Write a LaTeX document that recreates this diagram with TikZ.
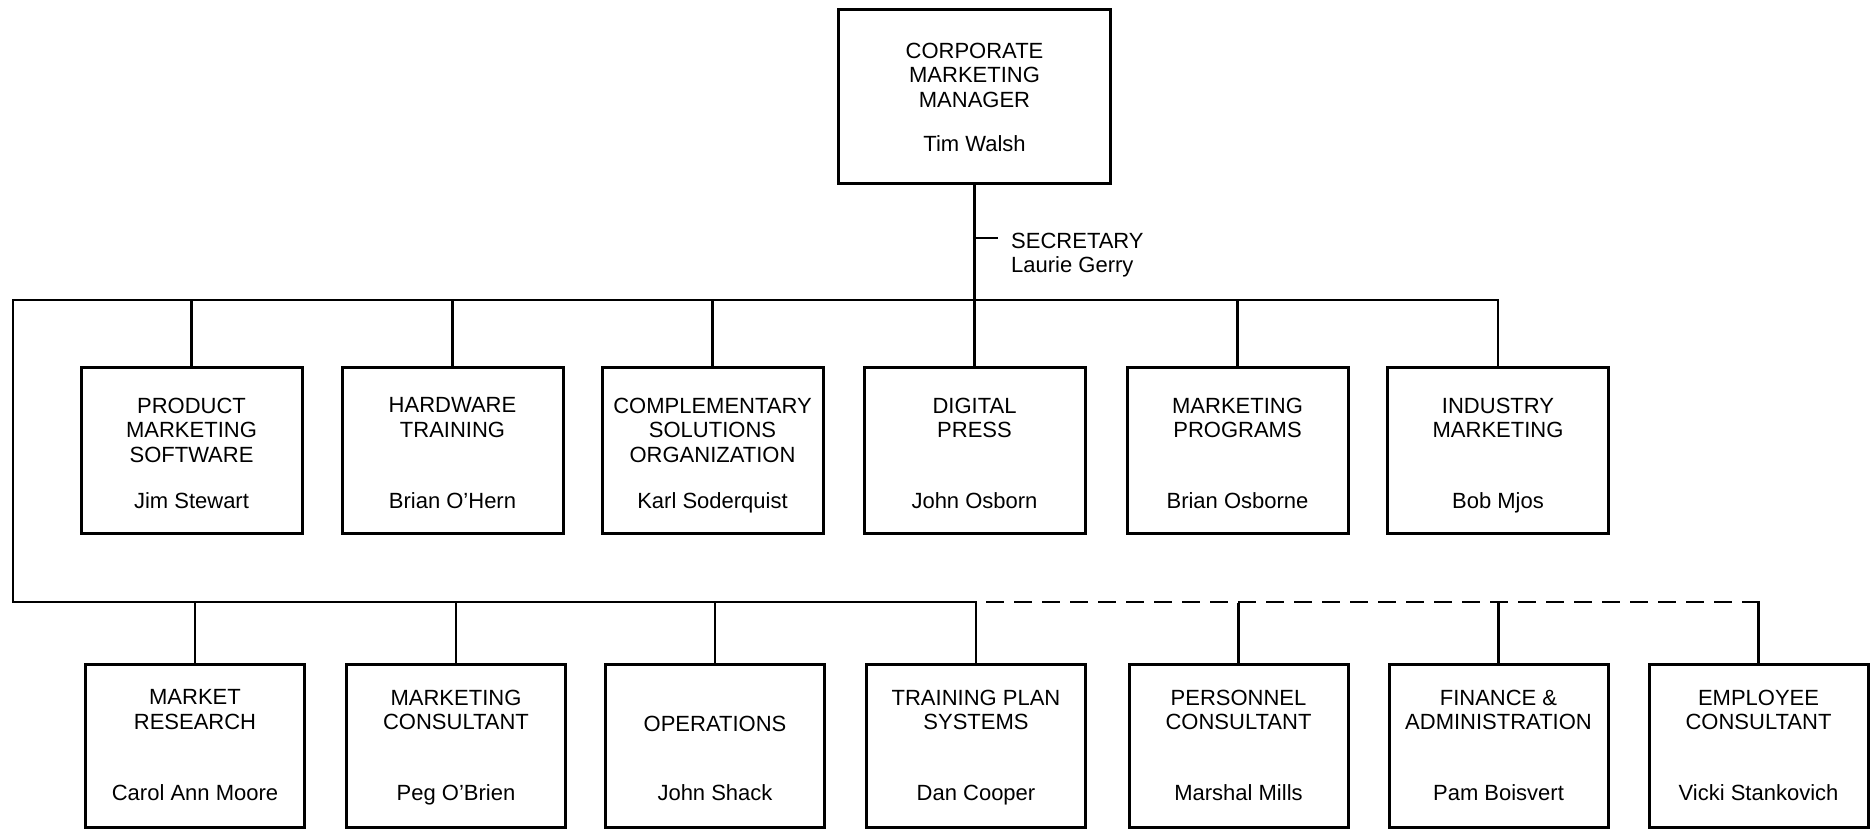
\documentclass[tikz,border=0pt]{standalone}
\usepackage{fontspec}
\setmainfont{Liberation Sans}
\usetikzlibrary{calc}

% one box of the chart: frame, title block and the person's name
% #1 name, #2 frame style, #3 x, #4 y (top), #5 title, #6 person,
% #7 drop of the title from the top edge, #8 rise of the name from the bottom edge
\newcommand\orgunit[8]{%
  \node[#2] (#1) at (#3,#4) {};
  \node[unittitle] (#1-title) at ([yshift=-#7pt]#1.north) {#5};
  \node[unitname] (#1-name) at ([yshift=#8pt]#1.south) {#6};
}

\begin{document}
\begin{tikzpicture}[x=1pt,y=-1pt,
  frame/.style={draw, line width=3pt, inner sep=0pt, outer sep=0pt, anchor=north},
  toprow/.style={frame, minimum width=221pt, minimum height=166pt},
  botrow/.style={frame, minimum width=219pt, minimum height=163pt},
  chartfont/.style={font=\fontsize{22}{24.5}\selectfont},
  unittitle/.style={chartfont, align=center, inner sep=0pt, anchor=north},
  unitname/.style={chartfont, inner sep=0pt, anchor=base},
  link/.style={line width=2.2pt},
  dashlink/.style={link, dash pattern=on 18pt off 10pt, dash phase=18pt}
]
\useasboundingbox (0,0) rectangle (1873,833);

% head of the department
\orgunit{cmm}{frame, minimum width=272pt, minimum height=174pt}{974.5}{9.5}%
  {CORPORATE\\MARKETING\\MANAGER}{Tim Walsh}{33}{32}

% first row
\orgunit{pms}{toprow}{191.5}{367.5}{PRODUCT\\MARKETING\\SOFTWARE}{Jim Stewart}{30}{25}
\orgunit{hwt}{toprow}{452.5}{367.5}{HARDWARE\\TRAINING}{Brian O'Hern}{30}{25}
\orgunit{cso}{toprow}{712.5}{367.5}{COMPLEMENTARY\\SOLUTIONS\\ORGANIZATION}{Karl Soderquist}{30}{25}
\orgunit{dp}{toprow}{974.5}{367.5}{DIGITAL\\PRESS}{John Osborn}{30}{25}
\orgunit{mp}{toprow}{1237.5}{367.5}{MARKETING\\PROGRAMS}{Brian Osborne}{30}{25}
\orgunit{im}{toprow}{1498}{367.5}{INDUSTRY\\MARKETING}{Bob Mjos}{30}{25}

% second row
\orgunit{mr}{botrow}{195}{664.5}{MARKET\\RESEARCH}{Carol Ann Moore}{25}{27}
\orgunit{mc}{botrow}{456}{664.5}{MARKETING\\CONSULTANT}{Peg O'Brien}{25}{27}
\orgunit{ops}{botrow}{715}{664.5}{OPERATIONS}{John Shack}{51}{27}
\orgunit{tps}{botrow}{976}{664.5}{TRAINING PLAN\\SYSTEMS}{Dan Cooper}{25}{27}
\orgunit{pc}{botrow}{1238.5}{664.5}{PERSONNEL\\CONSULTANT}{Marshal Mills}{25}{27}
\orgunit{fa}{botrow}{1498.5}{664.5}{FINANCE \&\\ADMINISTRATION}{Pam Boisvert}{25}{27}
\orgunit{ecn}{botrow}{1758.5}{664.5}{EMPLOYEE\\CONSULTANT}{Vicki Stankovich}{25}{27}

% secretary on the main line
\coordinate (secY) at (0,238);
\coordinate (secTap) at (cmm.south |- secY);
\node[chartfont, align=left, inner sep=0pt, anchor=north west] (sec) at (1011,232.5)
  {SECRETARY\\Laurie Gerry};
\draw[link] (secTap) -- ([xshift=-13pt]sec.west |- secTap);

% buses
\coordinate (busL) at (13,300);
\coordinate (loopL) at (13,602);
\draw[link] (cmm.south) -- (dp.north);
\draw[link] (im.north) -- (im.north |- busL) -- (busL) -- (loopL)
  -- (loopL -| tps.north) -- (tps.north);
\foreach \n in {pms,hwt,cso,mp}
  \draw[link] (\n.north) -- (\n.north |- busL);
\foreach \n in {mr,mc,ops}
  \draw[link] (\n.north) -- (\n.north |- loopL);

% dotted-line reporting
\draw[dashlink] (loopL -| tps.north) -- (loopL -| ecn.north);
\foreach \n in {pc,fa,ecn}
  \draw[link] (\n.north) -- ([yshift=-1.1pt]\n.north |- loopL);
\draw[link] ([xshift=-8pt]loopL -| ecn.north) -- ([xshift=1.1pt]loopL -| ecn.north);
\end{tikzpicture}
\end{document}
